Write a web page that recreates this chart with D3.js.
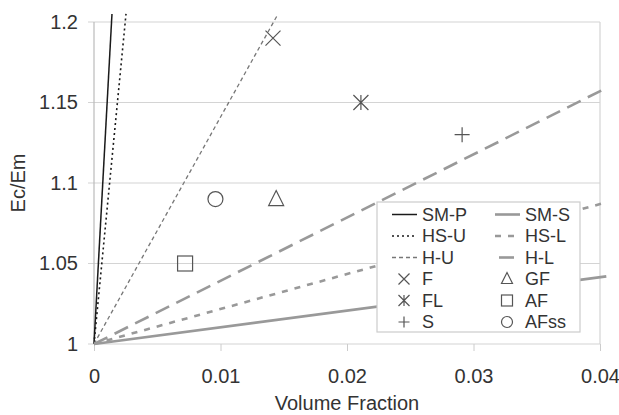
<!DOCTYPE html>
<html>
<head>
<meta charset="utf-8">
<script src="https://cdn.jsdelivr.net/npm/d3@7"></script>
<style>
  body { margin: 0; background: #fff; }
  svg text { font-family: "Liberation Sans", Arial, sans-serif; fill: #333; }
</style>
</head>
<body>
<div id="chart"></div>
<script>
// model curves: name, end point (all start at 0, 1)
var lineNames = ["SM-P", "HS-U", "H-U", "H-L", "HS-L", "SM-S"];
var lineEndX  = [0.00142, 0.00253, 0.01455, 0.0405, 0.0405, 0.0405];
var lineEndY  = [1.205, 1.205, 1.205, 1.159, 1.088, 1.042];

// measured points
var pointNames = ["F", "FL", "S", "GF", "AF", "AFss"];
var pointX = [0.01415, 0.0211, 0.0291, 0.0144, 0.0072, 0.0096];
var pointY = [1.19, 1.15, 1.13, 1.09, 1.05, 1.09];

var xTicks = [0, 0.01, 0.02, 0.03, 0.04];
var yTicks = [1, 1.05, 1.1, 1.15, 1.2];

var lineStyle = {
  "SM-P": {stroke: "#1a1a1a", width: 1.5, dash: null},
  "HS-U": {stroke: "#1a1a1a", width: 1.6, dash: "2,3"},
  "H-U":  {stroke: "#777", width: 1.3, dash: "4,3"},
  "H-L":  {stroke: "#999", width: 2.6, dash: "15,8"},
  "HS-L": {stroke: "#999", width: 2.6, dash: "6,7"},
  "SM-S": {stroke: "#999", width: 2.6, dash: null}
};

var width = 619, height = 415;
var margin = {top: 22, right: 19, bottom: 71, left: 94};

var svg = d3.select("#chart").append("svg")
    .attr("width", width)
    .attr("height", height);

var x = d3.scaleLinear().domain([0, 0.04]).range([margin.left, width - margin.right]);
var y = d3.scaleLinear().domain([1, 1.2]).range([height - margin.bottom, margin.top]);

// grid
svg.append("g").selectAll("line")
    .data(yTicks.slice(1))
    .enter().append("line")
    .attr("x1", x(0) - 6).attr("x2", x(0.04))
    .attr("y1", function(d) { return y(d); })
    .attr("y2", function(d) { return y(d); })
    .attr("stroke", "#d4d4d4").attr("stroke-width", 1.2);

// frame: left, right, bottom
svg.append("line")
    .attr("x1", x(0)).attr("x2", x(0)).attr("y1", y(1.2)).attr("y2", y(1))
    .attr("stroke", "#bbb").attr("stroke-width", 1.2);
svg.append("line")
    .attr("x1", x(0.04)).attr("x2", x(0.04)).attr("y1", y(1.2)).attr("y2", y(1))
    .attr("stroke", "#d4d4d4").attr("stroke-width", 1.2);
svg.append("line")
    .attr("x1", x(0) - 6).attr("x2", x(0.04)).attr("y1", y(1)).attr("y2", y(1))
    .attr("stroke", "#d4d4d4").attr("stroke-width", 1.2);

// axes
var xAxis = svg.append("g")
    .attr("transform", "translate(0," + y(1) + ")")
    .call(d3.axisBottom(x).tickValues(xTicks).tickSize(7).tickPadding(18)
        .tickFormat(function(d) { return d === 0 ? "0" : d3.format(".2f")(d); }));
xAxis.select(".domain").remove();
xAxis.selectAll("line").attr("stroke", "#ccc");
xAxis.selectAll("text").attr("font-size", 20).attr("fill", "#333");

var yAxis = svg.append("g")
    .attr("transform", "translate(" + x(0) + ",0)")
    .call(d3.axisLeft(y).tickValues(yTicks).tickSize(0).tickPadding(16)
        .tickFormat(function(d) { return d3.format("")(+d.toFixed(2)); }));
yAxis.select(".domain").remove();
yAxis.selectAll("text").attr("font-size", 20).attr("fill", "#333");

svg.append("text")
    .attr("x", (x(0) + x(0.04)) / 2)
    .attr("y", 410)
    .attr("text-anchor", "middle")
    .attr("font-size", 20)
    .text("Volume Fraction");

svg.append("text")
    .attr("transform", "translate(25," + y(1.1) + ") rotate(-90)")
    .attr("text-anchor", "middle")
    .attr("font-size", 20)
    .text("Ec/Em");

// model lines
var lineData = lineNames.map(function(n, i) {
  return {name: n, pts: [[0, 1], [lineEndX[i], lineEndY[i]]]};
});
var path = d3.line().x(function(d) { return x(d[0]); }).y(function(d) { return y(d[1]); });

svg.append("g").selectAll("path")
    .data(lineData)
    .enter().append("path")
    .attr("d", function(d) { return path(d.pts); })
    .attr("fill", "none")
    .attr("stroke", function(d) { return lineStyle[d.name].stroke; })
    .attr("stroke-width", function(d) { return lineStyle[d.name].width; })
    .attr("stroke-dasharray", function(d) { return lineStyle[d.name].dash; });

// marker shapes
function marker(g, name, s) {
  g.attr("fill", "none").attr("stroke", "#555").attr("stroke-width", 1.2);
  if (name === "F") {
    g.append("path").attr("d", "M" + -s + "," + -s + "L" + s + "," + s + "M" + -s + "," + s + "L" + s + "," + -s);
  } else if (name === "FL") {
    g.append("path").attr("d", "M" + -s + "," + -s + "L" + s + "," + s + "M" + -s + "," + s + "L" + s + "," + -s + "M0," + -s + "L0," + s);
  } else if (name === "S") {
    g.append("path").attr("d", "M" + -s + ",0L" + s + ",0M0," + -s + "L0," + s);
  } else if (name === "GF") {
    g.append("path").attr("d", "M0," + (-s - 1) + "L" + s + "," + (s - 1) + "L" + -s + "," + (s - 1) + "Z");
  } else if (name === "AF") {
    g.append("rect").attr("x", -s).attr("y", -s).attr("width", 2 * s).attr("height", 2 * s);
  } else if (name === "AFss") {
    g.append("circle").attr("r", s);
  }
}

pointNames.forEach(function(n, i) {
  var g = svg.append("g").attr("transform", "translate(" + x(pointX[i]) + "," + y(pointY[i]) + ")");
  marker(g, n, 7.5);
});

// legend
var legend = svg.append("g").attr("transform", "translate(377,202)");
legend.append("rect")
    .attr("width", 203).attr("height", 130)
    .attr("fill", "#fff").attr("stroke", "#ccc").attr("stroke-width", 1.2);

var legendItems = [
  ["SM-P", "SM-S"], ["HS-U", "HS-L"], ["H-U", "H-L"],
  ["F", "GF"], ["FL", "AF"], ["S", "AFss"]
];
var colX = [15, 118];
legendItems.forEach(function(row, r) {
  row.forEach(function(name, c) {
    var cy = 12.5 + r * 21.5;
    var g = legend.append("g").attr("transform", "translate(" + colX[c] + "," + cy + ")");
    if (lineStyle[name]) {
      var st = lineStyle[name];
      // the long-dash sample only shows one dash in the original
      var x1 = name === "H-L" ? 4 : 0, x2 = name === "H-L" ? 19 : 25;
      g.append("line")
          .attr("x1", x1).attr("x2", x2).attr("y1", 0).attr("y2", 0)
          .attr("stroke", st.stroke).attr("stroke-width", st.width)
          .attr("stroke-dasharray", st.dash);
    } else {
      var m = g.append("g").attr("transform", "translate(12,0)");
      marker(m, name, 5.5);
    }
    g.append("text")
        .attr("x", 30).attr("y", 0)
        .attr("dy", "0.36em")
        .attr("font-size", 18)
        .text(name);
  });
});
</script>
</body>
</html>
